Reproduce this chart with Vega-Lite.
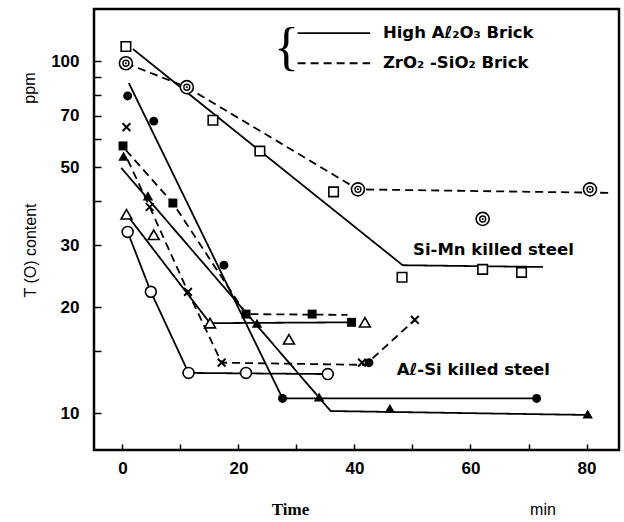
{
  "$schema": "https://vega.github.io/schema/vega-lite/v6.json",
  "width": 525,
  "height": 441,
  "autosize": {"type": "none"},
  "padding": {"left": 94, "top": 9, "right": 5, "bottom": 72},
  "background": "white",
  "config": {
    "view": {"stroke": "black", "strokeWidth": 2.5},
    "axis": {"grid": false, "domain": false, "tickColor": "black", "tickWidth": 1.5, "labelColor": "black", "titleColor": "black"}
  },
  "datasets": {
    "pts": [
      {"s": "sq", "x": 0.6, "y": 110}, {"s": "sq", "x": 15.6, "y": 67.9}, {"s": "sq", "x": 23.7, "y": 55.5}, {"s": "sq", "x": 36.4, "y": 42.5}, {"s": "sq", "x": 48.2, "y": 24.3}, {"s": "sq", "x": 62.1, "y": 25.6}, {"s": "sq", "x": 68.8, "y": 25.1},
      {"s": "dc", "x": 0.6, "y": 98.6}, {"s": "dc", "x": 11.1, "y": 84.3}, {"s": "dc", "x": 40.6, "y": 43.2}, {"s": "dc", "x": 80.6, "y": 43.2}, {"s": "dc", "x": 62.1, "y": 35.6},
      {"s": "fc", "x": 0.9, "y": 79.6}, {"s": "fc", "x": 5.4, "y": 67.5}, {"s": "fc", "x": 17.5, "y": 26.3}, {"s": "fc", "x": 27.6, "y": 11.0}, {"s": "fc", "x": 71.4, "y": 11.0}, {"s": "fc", "x": 42.5, "y": 13.9},
      {"s": "fs", "x": 0.1, "y": 57.4}, {"s": "fs", "x": 8.7, "y": 39.5}, {"s": "fs", "x": 21.3, "y": 19.1}, {"s": "fs", "x": 32.7, "y": 19.1}, {"s": "fs", "x": 39.5, "y": 18.1},
      {"s": "ft", "x": 0.2, "y": 53.7}, {"s": "ft", "x": 4.4, "y": 41.4}, {"s": "ft", "x": 23.2, "y": 18.0}, {"s": "ft", "x": 33.9, "y": 11.1}, {"s": "ft", "x": 46.1, "y": 10.3}, {"s": "ft", "x": 80.2, "y": 9.93},
      {"s": "xx", "x": 0.7, "y": 64.9}, {"s": "xx", "x": 4.7, "y": 38.5}, {"s": "xx", "x": 11.3, "y": 22.1}, {"s": "xx", "x": 17.1, "y": 13.9}, {"s": "xx", "x": 41.3, "y": 13.9}, {"s": "xx", "x": 50.4, "y": 18.4},
      {"s": "ot", "x": 0.7, "y": 36.7}, {"s": "ot", "x": 5.4, "y": 32.1}, {"s": "ot", "x": 15.1, "y": 18.0}, {"s": "ot", "x": 28.7, "y": 16.2}, {"s": "ot", "x": 41.8, "y": 18.1},
      {"s": "oc", "x": 0.9, "y": 32.7}, {"s": "oc", "x": 4.9, "y": 22.1}, {"s": "oc", "x": 11.4, "y": 13.0}, {"s": "oc", "x": 21.3, "y": 13.0}, {"s": "oc", "x": 35.4, "y": 12.9}
    ],
    "lines": [
      {"id": "L1", "d": "solid", "o": 1, "x": 1.8, "y": 108.2}, {"id": "L1", "d": "solid", "o": 2, "x": 48.3, "y": 26.3}, {"id": "L1", "d": "solid", "o": 3, "x": 72.5, "y": 26.0},
      {"id": "L2", "d": "dashed", "o": 1, "x": 0.6, "y": 98.6}, {"id": "L2", "d": "dashed", "o": 2, "x": 11.1, "y": 84.3}, {"id": "L2", "d": "dashed", "o": 3, "x": 40.6, "y": 43.2}, {"id": "L2", "d": "dashed", "o": 4, "x": 84.5, "y": 42.2},
      {"id": "L3", "d": "solid", "o": 1, "x": 1.1, "y": 86.6}, {"id": "L3", "d": "solid", "o": 2, "x": 27.6, "y": 11.0}, {"id": "L3", "d": "solid", "o": 3, "x": 71.4, "y": 11.0},
      {"id": "L4", "d": "solid", "o": 1, "x": -0.2, "y": 49.7}, {"id": "L4", "d": "solid", "o": 2, "x": 35.9, "y": 10.13}, {"id": "L4", "d": "solid", "o": 3, "x": 80.6, "y": 9.87},
      {"id": "L5", "d": "dashed", "o": 1, "x": 0.6, "y": 55.8}, {"id": "L5", "d": "dashed", "o": 2, "x": 8.7, "y": 39.5}, {"id": "L5", "d": "dashed", "o": 3, "x": 21.3, "y": 19.1}, {"id": "L5", "d": "dashed", "o": 4, "x": 38.8, "y": 19.0},
      {"id": "L6", "d": "dashed", "o": 1, "x": 0.9, "y": 52.4}, {"id": "L6", "d": "dashed", "o": 2, "x": 4.7, "y": 38.5}, {"id": "L6", "d": "dashed", "o": 3, "x": 11.3, "y": 22.1}, {"id": "L6", "d": "dashed", "o": 4, "x": 17.1, "y": 13.9}, {"id": "L6", "d": "dashed", "o": 5, "x": 41.9, "y": 13.7}, {"id": "L6", "d": "dashed", "o": 6, "x": 50.4, "y": 18.4},
      {"id": "L7", "d": "solid", "o": 1, "x": 0.7, "y": 36.7}, {"id": "L7", "d": "solid", "o": 2, "x": 15.1, "y": 18.0}, {"id": "L7", "d": "solid", "o": 3, "x": 39.5, "y": 18.1},
      {"id": "L8", "d": "solid", "o": 1, "x": 0.9, "y": 32.7}, {"id": "L8", "d": "solid", "o": 2, "x": 4.9, "y": 22.1}, {"id": "L8", "d": "solid", "o": 3, "x": 11.4, "y": 13.0}, {"id": "L8", "d": "solid", "o": 4, "x": 35.4, "y": 12.9},
      {"id": "LA", "d": "solid", "o": 1, "x": 30.2, "y": 120.1}, {"id": "LA", "d": "solid", "o": 2, "x": 42.7, "y": 120.1},
      {"id": "LB", "d": "dashed", "o": 1, "x": 30.2, "y": 98.6}, {"id": "LB", "d": "dashed", "o": 2, "x": 42.7, "y": 98.6}
    ],
    "notes": [
      {"t": "Si-Mn killed steel", "x": 50.1, "y": 29.0},
      {"t": "Aℓ-Si killed steel", "x": 47.3, "y": 13.25},
      {"t": "High Aℓ₂O₃ Brick", "x": 44.9, "y": 120.1},
      {"t": "ZrO₂ -SiO₂ Brick", "x": 44.9, "y": 98.6}
    ]
  },
  "encoding": {
    "x": {
      "field": "x", "type": "quantitative",
      "scale": {"domain": [-4.9, 85.6], "nice": false, "zero": false},
      "axis": {
        "values": [0, 10, 20, 30, 40, 50, 60, 70, 80],
        "labelExpr": "datum.value % 20 === 0 ? datum.label : ''",
        "tickSize": -6, "labelPadding": 16,
        "labelFont": "Liberation Sans", "labelFontWeight": "bold", "labelFontSize": 17,
        "title": "Time", "titleFont": "Liberation Serif", "titleFontWeight": "bold", "titleFontSize": 17,
        "titleX": 196, "titleY": 59, "titleAlign": "center", "titleBaseline": "middle"
      }
    },
    "y": {
      "field": "y", "type": "quantitative",
      "scale": {"type": "log", "domain": [7.85, 140.6], "nice": false, "zero": false},
      "axis": {
        "values": [10, 15, 20, 30, 40, 50, 60, 70, 80, 90, 100],
        "labelExpr": "indexof([10,20,30,50,70,100], datum.value) >= 0 ? datum.label : ''",
        "tickSize": -7, "labelPadding": 22,
        "labelFont": "Liberation Sans", "labelFontWeight": "bold", "labelFontSize": 17,
        "title": "T (O) content", "titleFont": "Liberation Sans", "titleFontWeight": "normal", "titleFontSize": 16,
        "titleAngle": 270, "titleX": -64, "titleY": 241, "titleAlign": "center", "titleBaseline": "middle"
      }
    }
  },
  "layer": [
    {
      "data": {"name": "lines"},
      "mark": {"type": "line", "color": "black", "strokeWidth": 1.8},
      "encoding": {
        "detail": {"field": "id"},
        "order": {"field": "o"},
        "strokeDash": {"field": "d", "type": "nominal", "scale": {"domain": ["solid", "dashed"], "range": [[1, 0], [8, 5]]}, "legend": null}
      }
    },
    {
      "data": {"name": "pts"},
      "transform": [{"filter": "datum.s === 'sq'"}],
      "mark": {"type": "point", "shape": "square", "size": 90, "filled": true, "fill": "white", "stroke": "black", "strokeWidth": 1.6, "opacity": 1}
    },
    {
      "data": {"name": "pts"},
      "transform": [{"filter": "datum.s === 'dc'"}],
      "mark": {"type": "point", "shape": "circle", "size": 170, "filled": true, "fill": "white", "stroke": "black", "strokeWidth": 1.6, "opacity": 1}
    },
    {
      "data": {"name": "pts"},
      "transform": [{"filter": "datum.s === 'dc'"}],
      "mark": {"type": "point", "shape": "circle", "size": 36, "filled": false, "stroke": "black", "strokeWidth": 1.4, "opacity": 1}
    },
    {
      "data": {"name": "pts"},
      "transform": [{"filter": "datum.s === 'dc'"}],
      "mark": {"type": "point", "shape": "circle", "size": 4, "filled": true, "color": "black", "opacity": 1}
    },
    {
      "data": {"name": "pts"},
      "transform": [{"filter": "datum.s === 'fc'"}],
      "mark": {"type": "point", "shape": "circle", "size": 80, "filled": true, "color": "black", "opacity": 1}
    },
    {
      "data": {"name": "pts"},
      "transform": [{"filter": "datum.s === 'fs'"}],
      "mark": {"type": "point", "shape": "square", "size": 80, "filled": true, "color": "black", "opacity": 1}
    },
    {
      "data": {"name": "pts"},
      "transform": [{"filter": "datum.s === 'ft'"}],
      "mark": {"type": "point", "shape": "triangle-up", "size": 110, "filled": true, "color": "black", "opacity": 1}
    },
    {
      "data": {"name": "pts"},
      "transform": [{"filter": "datum.s === 'xx'"}],
      "mark": {"type": "point", "shape": "M-1,-1L1,1M-1,1L1,-1", "size": 60, "filled": false, "stroke": "black", "strokeWidth": 2, "opacity": 1}
    },
    {
      "data": {"name": "pts"},
      "transform": [{"filter": "datum.s === 'ot'"}],
      "mark": {"type": "point", "shape": "triangle-up", "size": 120, "filled": true, "fill": "white", "stroke": "black", "strokeWidth": 1.6, "opacity": 1}
    },
    {
      "data": {"name": "pts"},
      "transform": [{"filter": "datum.s === 'oc'"}],
      "mark": {"type": "point", "shape": "circle", "size": 120, "filled": true, "fill": "white", "stroke": "black", "strokeWidth": 1.6, "opacity": 1}
    },
    {
      "data": {"name": "notes"},
      "mark": {"type": "text", "align": "left", "baseline": "middle", "font": "DejaVu Sans", "fontWeight": "bold", "fontSize": 16.5, "color": "black"},
      "encoding": {"text": {"field": "t"}}
    },
    {
      "data": {"values": [{"t": "{", "x": 28.3, "y": 108.8}]},
      "mark": {"type": "text", "align": "center", "baseline": "middle", "font": "Liberation Serif", "fontWeight": "normal", "fontSize": 52, "color": "black"},
      "encoding": {"text": {"field": "t"}}
    },
    {
      "data": {"values": [{"t": "ppm", "x": -16, "y": 83.8}]},
      "mark": {"type": "text", "align": "center", "baseline": "middle", "angle": 270, "font": "Liberation Sans", "fontSize": 16, "color": "black"},
      "encoding": {"text": {"field": "t"}}
    },
    {
      "data": {"values": [{"t": "min", "x": 72.5, "y": 5.3}]},
      "mark": {"type": "text", "align": "center", "baseline": "middle", "font": "Liberation Sans", "fontSize": 16, "color": "black"},
      "encoding": {"text": {"field": "t"}}
    }
  ]
}
